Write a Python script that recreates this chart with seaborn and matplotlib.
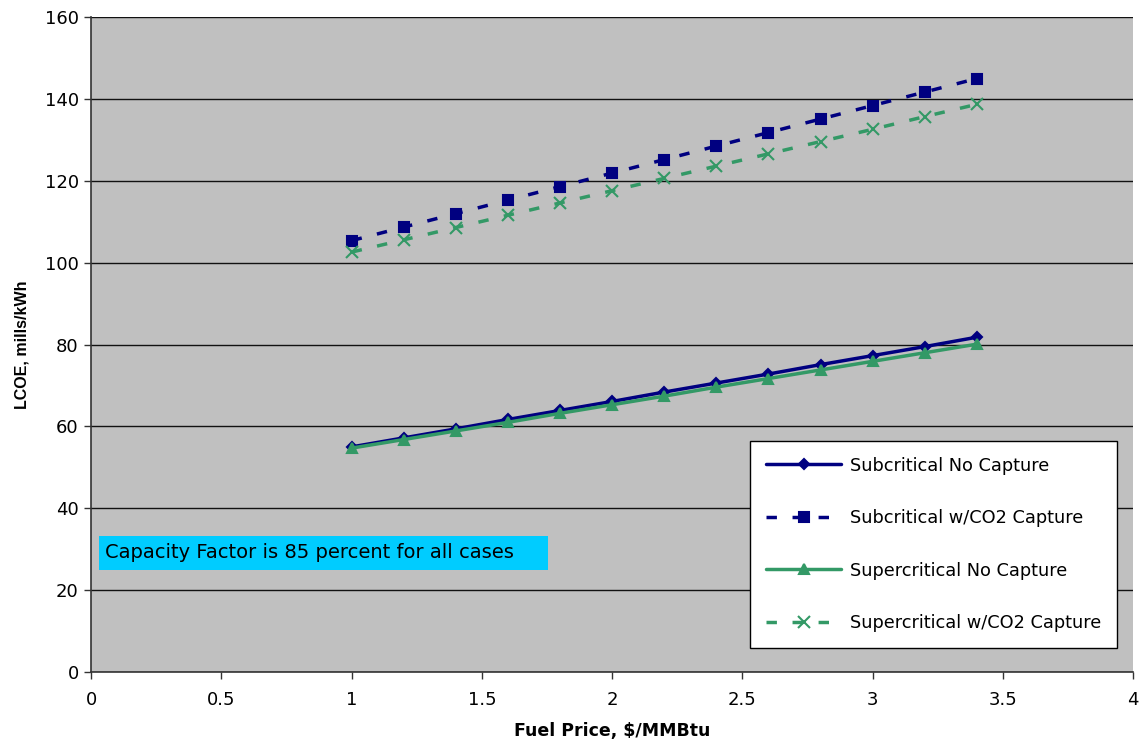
import numpy as np
import pandas as pd
import matplotlib
matplotlib.use("Agg")
import matplotlib.pyplot as plt
import matplotlib.patches as mpatches
import seaborn as sns

# DATA
fuel_price = [1.0, 1.2, 1.4, 1.6, 1.8, 2.0, 2.2, 2.4, 2.6, 2.8, 3.0, 3.2, 3.4]
sub_no_capture = [55.0, 57.2, 59.4, 61.7, 63.9, 66.1, 68.4, 70.6, 72.8, 75.1, 77.3, 79.5, 81.8]
sub_capture = [105.4, 108.7, 112.0, 115.3, 118.6, 121.9, 125.2, 128.5, 131.8, 135.1, 138.4, 141.7, 145.0]
super_no_capture = [54.7, 56.8, 58.9, 61.0, 63.2, 65.3, 67.4, 69.6, 71.7, 73.8, 75.9, 78.0, 80.1]
super_capture = [102.6, 105.6, 108.6, 111.6, 114.6, 117.6, 120.6, 123.6, 126.6, 129.6, 132.6, 135.7, 138.7]

series_names = ["Subcritical No Capture", "Subcritical w/CO2 Capture",
                "Supercritical No Capture", "Supercritical w/CO2 Capture"]
series_values = [sub_no_capture, sub_capture, super_no_capture, super_capture]
x_tick_labels = ["0", "0.5", "1", "1.5", "2", "2.5", "3", "3.5", "4"]
note = "Capacity Factor is 85 percent for all cases"

navy = "#000080"
green = "#339966"
colors = [navy, navy, green, green]
markers = ["D", "s", "^", "x"]
msizes = [5.5, 6.5, 7.5, 8]
styles = ["-", (0, (3, 4.5)), "-", (0, (3, 4.5))]

sns.set_style("white")
plt.rcParams["font.family"] = ["DejaVu Sans"]
plt.rcParams["text.color"] = "black"
plt.rcParams["axes.labelcolor"] = "black"
plt.rcParams["xtick.color"] = "black"
plt.rcParams["ytick.color"] = "black"

fig = plt.figure(figsize=(11.4, 7.45), dpi=100)
ax = fig.add_axes([0.080, 0.098, 0.914, 0.879])
ax.set_facecolor("#C0C0C0")

for name, vals, c, m, ms, ls in zip(series_names, series_values, colors, markers, msizes, styles):
    df = pd.DataFrame({"Fuel Price": fuel_price, "LCOE": vals})
    sns.lineplot(data=df, x="Fuel Price", y="LCOE", color=c, marker=m, markersize=ms,
                 markeredgecolor=c, markerfacecolor=c, markeredgewidth=1.5,
                 linestyle=ls, linewidth=2.5, label=name, ax=ax)

ax.set_xlim(0, 4)
ax.set_ylim(0, 160)
ax.set_xticks(np.arange(0, 4.01, 0.5))
ax.set_xticklabels(x_tick_labels)
ax.set_yticks(np.arange(0, 161, 20))
ax.yaxis.grid(True, color="#111111", linewidth=1)
ax.xaxis.grid(False)
ax.set_axisbelow(True)

for side in ["top", "right"]:
    ax.spines[side].set_visible(False)
for side in ["left", "bottom"]:
    ax.spines[side].set_color("#333333")
    ax.spines[side].set_linewidth(1.2)

ax.tick_params(axis="both", direction="out", length=5, width=1, color="#333333",
               labelcolor="black", labelsize=13, bottom=True, left=True)
ax.tick_params(axis="x", pad=9)
ax.tick_params(axis="y", pad=4)
ax.set_xlabel("Fuel Price, $/MMBtu", fontsize=12.5, fontweight="bold", labelpad=9,
              color="black")
ax.set_ylabel("LCOE, mills/kWh", fontsize=11.5, fontweight="bold", labelpad=11,
              family="Liberation Sans", color="black")

handles, labels = ax.get_legend_handles_labels()
leg = ax.legend(handles, labels, loc="lower right", bbox_to_anchor=(0.9846, 0.0366),
                frameon=True, fancybox=False, edgecolor="black", facecolor="white",
                framealpha=1, fontsize=12.8, handlelength=4.2, labelspacing=1.94,
                borderpad=0.9, borderaxespad=0, handletextpad=0.5)
leg.get_frame().set_linewidth(1.0)
for t in leg.get_texts():
    t.set_color("black")

# note box
ax.add_patch(mpatches.Rectangle((0.031, 24.9), 1.723, 8.3, facecolor="#00CCFF",
                                edgecolor="none", zorder=3))
ax.text(0.054, 29.1, note, fontsize=14, va="center", ha="left", color="black", zorder=4)

fig.savefig("out.png", dpi=100)
